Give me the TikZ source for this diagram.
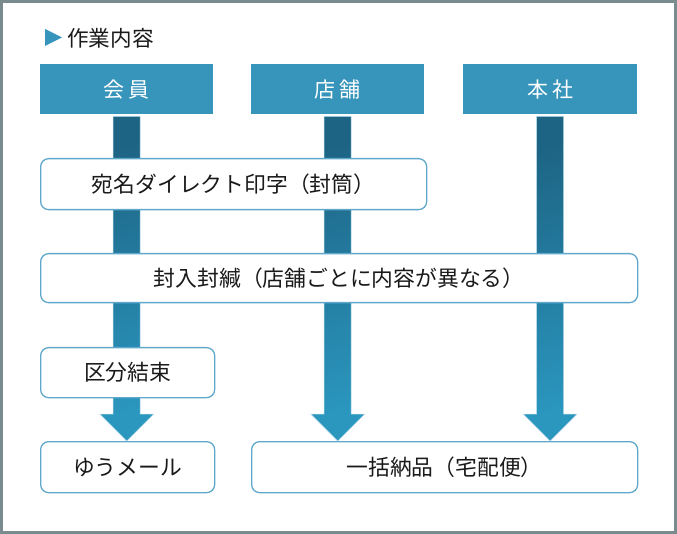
\documentclass[tikz,border=0pt]{standalone}
\usepackage{fontspec}
\setmainfont{Noto Sans CJK JP}
\usetikzlibrary{calc}
\definecolor{hdr}{HTML}{3794BB}
\definecolor{adark}{HTML}{1D6383}
\definecolor{alight}{HTML}{2B97BF}
\definecolor{bline}{HTML}{5FA8CB}
\definecolor{framecol}{HTML}{7A8B8E}
\definecolor{txt}{HTML}{1A1A1A}
\pgfdeclarelayer{bg}
\pgfsetlayers{bg,main}
\newcommand\fatarr[2]{\shadedraw[fatarrow] let \p1=(#1.south), \p2=(#2.north) in
  (\x1-13.5pt,\y1-2pt) -- (\x1+13.5pt,\y1-2pt) -- (\x1+13.5pt,\y2+27pt) -- (\x1+27pt,\y2+27pt)
  -- (\x1,\y2) -- (\x1-27pt,\y2+27pt) -- (\x1-13.5pt,\y2+27pt) -- cycle;}
\begin{document}
\begin{tikzpicture}[x=1pt,y=-1pt,
  hdrbox/.style={fill=hdr, text=white, inner sep=0pt, minimum height=50pt, anchor=north west,
    font=\fontsize{21}{24}\selectfont},
  stepbox/.style={draw=bline, line width=1.3pt, fill=white, rounded corners=8pt, inner sep=0pt,
    anchor=north west, text=txt, font=\fontsize{21.8}{24}\selectfont},
  fatarrow/.style={top color=adark, bottom color=alight, shading angle=15,
    draw=alight!35!white, line width=0.5pt}]
\useasboundingbox (0,0) rectangle (677,534);
\draw[framecol, line width=3pt] (1.5,1.5) rectangle (675.5,532.5);
% title
\fill[hdr] (45,29) -- (62,37.5) -- (45,46) -- cycle;
\node[anchor=west, inner sep=0pt, text=txt, font=\fontsize{21.6}{24}\selectfont] (title) at (67,38) {作業内容};
% headers
\node[hdrbox, minimum width=173pt] (h1) at (40,64) {会\hspace{4pt}員};
\node[hdrbox, minimum width=173pt] (h2) at (251,64) {店\hspace{4pt}舗};
\node[hdrbox, minimum width=174pt] (h3) at (463,64) {本\hspace{4pt}社};
% steps
\node[stepbox, minimum width=386pt, minimum height=51pt] (b1) at (40,158) {宛名ダイレクト印字（封筒）};
\node[stepbox, minimum width=597pt, minimum height=49pt] (b2) at (40,253) {封入封緘（店舗ごとに内容が異なる）};
\node[stepbox, minimum width=174pt, minimum height=50pt] (b3) at (40,347) {区分結束};
\node[stepbox, minimum width=174pt, minimum height=51pt] (b4) at (40,441) {ゆうメール};
\node[stepbox, minimum width=386pt, minimum height=51pt] (b5) at (251,441) {一括納品（宅配便）};
% arrows behind
\begin{pgfonlayer}{bg}
\fatarr{h1}{b4}
\fatarr{h2}{b5}
\fatarr{h3}{b5}
\end{pgfonlayer}
\end{tikzpicture}
\end{document}
